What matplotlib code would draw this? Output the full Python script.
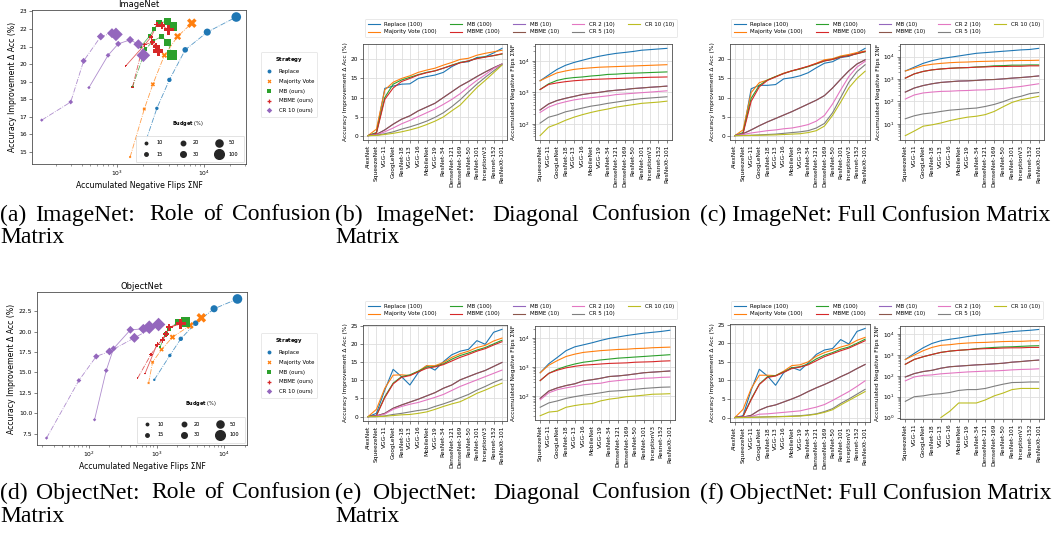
import numpy as np
import matplotlib.pyplot as plt
from matplotlib.lines import Line2D

W, H = 1058, 533

# ---------------- data ----------------
models = ['AlexNet', 'SqueezeNet', 'VGG-11', 'GoogLeNet', 'ResNet-18', 'VGG-13', 'VGG-16',
          'MobileNet', 'VGG-19', 'ResNet-34', 'DenseNet-121', 'DenseNet-169', 'ResNet-50',
          'ResNet-101', 'InceptionV3', 'Resnet-152', 'ResNeXt-101']
series = ['Replace (100)', 'Majority Vote (100)', 'MB (100)', 'MBME (100)', 'MB (10)',
          'MBME (10)', 'CR 2 (10)', 'CR 5 (10)', 'CR 10 (10)']

# (b) ImageNet, diagonal confusion: accuracy improvement (17 models)
acc_b = [
    [0, 0.7, 12.4, 13.0, 13.5, 13.6, 15.0, 15.5, 15.9, 16.6, 18.1, 19.2, 19.4, 20.5, 20.7, 21.7, 22.9],
    [0, 1.7, 12.0, 14.0, 15.0, 15.7, 16.6, 17.2, 17.7, 18.5, 19.2, 20.0, 20.3, 21.1, 21.6, 22.0, 22.4],
    [0, 0.8, 10.0, 13.5, 14.6, 15.3, 16.0, 16.6, 17.0, 17.7, 18.5, 19.2, 19.6, 20.3, 20.7, 21.0, 21.4],
    [0, 0.6, 9.5, 12.5, 14.2, 15.0, 15.9, 16.5, 17.0, 17.7, 18.4, 19.1, 19.6, 20.2, 20.6, 21.0, 21.5],
    [0, 0.3, 1.5, 3.0, 4.3, 5.2, 6.5, 7.5, 8.5, 10.0, 11.5, 13.0, 14.2, 15.5, 16.7, 17.8, 18.8],
    [0, 0.3, 1.5, 3.0, 4.3, 5.2, 6.5, 7.5, 8.5, 10.0, 11.5, 13.0, 14.2, 15.5, 16.7, 17.8, 18.8],
    [0, 0.2, 1.0, 2.0, 3.1, 4.0, 5.0, 6.0, 7.0, 8.2, 9.5, 11.0, 12.8, 14.5, 16.0, 17.6, 18.7],
    [0, 0.1, 0.5, 1.0, 1.7, 2.3, 3.0, 3.8, 4.8, 6.0, 7.6, 9.4, 11.5, 13.5, 15.3, 17.0, 18.6],
    [0, 0.05, 0.3, 0.6, 1.0, 1.5, 2.1, 2.9, 3.8, 4.9, 6.5, 8.0, 10.3, 12.6, 14.5, 16.5, 18.5],
]
# (b) accumulated negative flips (16 models, from SqueezeNet)
nf_b = [
    [2340, 3550, 5370, 7240, 8910, 10500, 12300, 14100, 15800, 17400, 18600, 20000, 21900, 22900, 24000, 25100],
    [2340, 3160, 4170, 4790, 5370, 5750, 6030, 6310, 6460, 6610, 6760, 6920, 7080, 7240, 7410, 7590],
    [1230, 1860, 2400, 2750, 2950, 3090, 3310, 3470, 3720, 3800, 3980, 4070, 4170, 4270, 4370, 4470],
    [1230, 1780, 2000, 2190, 2340, 2450, 2570, 2630, 2690, 2750, 2820, 2880, 2950, 3020, 3050, 3090],
    [275, 427, 550, 646, 741, 851, 933, 1000, 1100, 1170, 1230, 1320, 1380, 1450, 1510, 1580],
    [275, 427, 550, 646, 741, 851, 933, 1000, 1100, 1170, 1230, 1320, 1380, 1450, 1510, 1580],
    [229, 339, 427, 501, 575, 631, 676, 724, 776, 851, 891, 933, 977, 1020, 1070, 1120],
    [105, 162, 191, 240, 275, 316, 363, 398, 447, 490, 537, 589, 631, 661, 692, 724],
    [42, 78, 98, 129, 162, 195, 229, 263, 295, 339, 372, 407, 447, 468, 490, 525],
]

# (c) ImageNet, full confusion matrix
acc_c = [
    [0, 0.5, 12.3, 13.2, 13.2, 13.4, 14.9, 15.2, 15.7, 16.5, 17.8, 19.0, 19.4, 20.5, 20.8, 21.7, 22.9],
    [0, 1.5, 11.3, 13.9, 14.6, 15.5, 16.4, 17.0, 17.5, 18.2, 19.0, 19.9, 20.2, 20.9, 21.3, 21.8, 22.2],
    [0, 0.8, 9.8, 13.2, 14.6, 15.5, 16.3, 17.0, 17.5, 18.1, 18.8, 19.6, 20.0, 20.7, 21.0, 21.5, 22.0],
    [0, 0.5, 9.0, 12.8, 14.5, 15.4, 16.3, 17.0, 17.6, 18.2, 18.9, 19.6, 20.0, 20.6, 21.0, 21.5, 22.1],
    [0, 0.5, 1.5, 2.6, 3.6, 4.5, 5.4, 6.3, 7.3, 8.3, 9.3, 10.5, 12.5, 14.8, 17.0, 18.8, 19.9],
    [0, 0.5, 1.5, 2.6, 3.6, 4.5, 5.4, 6.3, 7.3, 8.3, 9.3, 10.5, 12.5, 14.8, 17.0, 18.8, 19.9],
    [0, 0.3, 0.7, 1.0, 1.3, 1.5, 1.8, 2.0, 2.4, 2.9, 3.8, 5.3, 8.3, 12.0, 15.5, 18.0, 19.5],
    [0, 0.05, 0.1, 0.2, 0.3, 0.4, 0.6, 0.8, 1.0, 1.3, 2.0, 3.2, 6.0, 10.0, 14.0, 16.8, 18.6],
    [0, 0.02, 0.05, 0.1, 0.15, 0.2, 0.3, 0.4, 0.5, 0.8, 1.3, 2.5, 5.3, 8.8, 12.5, 15.0, 16.9],
]
nf_c = [
    [2290, 3390, 5010, 6610, 8130, 9330, 10700, 12300, 14100, 15100, 16200, 17400, 18600, 20000, 20900, 23400],
    [2290, 3020, 3980, 4570, 5010, 5370, 5620, 5750, 6030, 6170, 6310, 6460, 6610, 6760, 6760, 6920],
    [1100, 1700, 2190, 2570, 2820, 3020, 3160, 3240, 3470, 3630, 3890, 3980, 4170, 4170, 4270, 4270],
    [1100, 1700, 2190, 2570, 2820, 3020, 3160, 3240, 3390, 3470, 3630, 3630, 3720, 3720, 3890, 3890],
    [263, 398, 513, 617, 708, 759, 813, 832, 871, 933, 955, 1020, 1100, 1170, 1260, 1380],
    [263, 398, 513, 617, 708, 759, 813, 832, 871, 933, 955, 1020, 1100, 1170, 1260, 1380],
    [129, 195, 240, 263, 282, 288, 302, 309, 324, 331, 355, 380, 427, 468, 537, 617],
    [17, 23, 28, 31, 36, 41, 44, 48, 51, 60, 74, 98, 138, 170, 224, 251],
    [3, 4.8, 7.9, 9.1, 11, 14, 17, 20, 22, 26, 36, 58, 91, 120, 141, 170],
]

# (e) ObjectNet, diagonal confusion
acc_e = [
    [0, 0.9, 7.3, 13.0, 11.0, 8.7, 12.1, 14.0, 12.8, 15.1, 17.0, 18.0, 18.5, 20.9, 19.9, 23.2, 24.0],
    [0, 2.0, 7.8, 11.4, 11.5, 11.3, 12.5, 14.0, 14.0, 14.9, 16.3, 17.3, 18.0, 19.0, 19.6, 20.8, 21.6],
    [0, 0.3, 5.5, 9.2, 11.0, 11.5, 12.5, 13.6, 13.8, 14.5, 15.8, 16.8, 17.5, 18.3, 19.0, 20.0, 21.0],
    [0, 0.3, 5.2, 9.0, 10.8, 11.3, 12.3, 13.3, 13.7, 14.3, 15.3, 16.3, 17.1, 18.0, 18.7, 19.7, 20.6],
    [0, 0.2, 0.9, 2.3, 3.2, 4.0, 4.8, 5.7, 6.6, 7.8, 8.7, 10.1, 11.0, 11.9, 12.7, 13.8, 14.9],
    [0, 0.2, 0.9, 2.3, 3.2, 4.0, 4.8, 5.7, 6.6, 7.8, 8.7, 10.1, 11.0, 11.9, 12.7, 13.8, 14.9],
    [0, 0.1, 0.7, 2.0, 2.8, 3.4, 3.9, 4.6, 5.3, 6.1, 7.2, 8.3, 9.2, 10.1, 11.0, 11.9, 12.8],
    [0, 0, 0.2, 0.6, 0.9, 1.3, 1.7, 2.0, 2.8, 3.5, 4.3, 5.2, 6.1, 7.3, 8.3, 9.4, 10.3],
    [0, 0, 0.1, 0.3, 0.5, 0.6, 0.9, 1.3, 2.0, 2.8, 3.5, 4.1, 5.2, 6.4, 7.3, 8.3, 9.2],
]
nf_e = [
    [631, 1290, 2140, 3630, 4900, 5750, 6760, 8130, 9550, 10700, 12000, 13200, 14500, 15500, 16600, 18200],
    [631, 1150, 1660, 2290, 2750, 3160, 3390, 3630, 3800, 3980, 4070, 4270, 4370, 4570, 4680, 4790],
    [339, 603, 832, 1050, 1260, 1450, 1580, 1740, 1860, 2000, 2090, 2190, 2290, 2400, 2510, 2630],
    [339, 603, 776, 933, 1050, 1150, 1200, 1260, 1320, 1350, 1380, 1450, 1480, 1510, 1580, 1620],
    [83, 148, 191, 229, 263, 331, 363, 407, 468, 490, 525, 575, 631, 661, 692, 724],
    [83, 148, 191, 229, 263, 331, 363, 407, 468, 490, 525, 575, 631, 661, 692, 724],
    [74, 129, 166, 191, 214, 245, 263, 275, 316, 339, 363, 380, 407, 417, 437, 447],
    [41, 58, 68, 83, 95, 107, 117, 129, 145, 151, 158, 170, 182, 191, 200, 204],
    [21, 28, 30, 41, 47, 52, 55, 68, 78, 85, 95, 100, 107, 115, 117, 120],
]

# (f) ObjectNet, full confusion matrix
acc_f = [
    [0, 0.5, 7.4, 13.0, 11.2, 8.7, 12.1, 13.5, 12.7, 14.7, 17.0, 18.2, 18.6, 21.0, 19.8, 23.2, 24.0],
    [0, 2.2, 7.8, 11.4, 11.4, 11.3, 12.5, 14.0, 14.2, 15.0, 16.5, 17.5, 18.2, 19.0, 19.6, 20.8, 21.6],
    [0, 0.3, 5.0, 9.0, 11.0, 11.3, 12.3, 13.4, 13.7, 14.4, 15.8, 16.8, 17.5, 18.4, 19.0, 20.0, 21.1],
    [0, 0.3, 4.8, 8.9, 10.8, 11.2, 12.2, 13.2, 13.6, 14.2, 15.3, 16.4, 17.2, 18.0, 18.7, 19.7, 20.7],
    [0, 0.1, 0.6, 2.0, 2.9, 3.4, 4.2, 5.0, 5.9, 7.0, 8.0, 8.9, 9.9, 11.0, 12.0, 13.2, 14.3],
    [0, 0.1, 0.6, 2.0, 2.9, 3.4, 4.2, 5.0, 5.9, 7.0, 8.0, 8.9, 9.9, 11.0, 12.0, 13.2, 14.3],
    [0, 0.05, 0.3, 0.9, 1.0, 1.2, 1.4, 1.6, 1.8, 2.3, 2.8, 3.5, 4.6, 5.8, 7.0, 8.4, 9.9],
    [0, 0.02, 0.1, 0.15, 0.2, 0.25, 0.3, 0.4, 0.5, 0.7, 1.0, 1.6, 2.4, 3.8, 5.0, 6.3, 7.6],
    [0, 0.01, 0.05, 0.1, 0.15, 0.2, 0.25, 0.3, 0.4, 0.6, 0.9, 1.4, 2.1, 3.4, 4.6, 5.8, 7.0],
]
nf_f = [
    [617, 1200, 2240, 3630, 4900, 5750, 6610, 7760, 8910, 10000, 10700, 12000, 13500, 14500, 15500, 17000],
    [617, 1000, 1620, 2340, 2950, 3160, 3550, 3800, 3980, 4070, 4270, 4470, 4570, 4570, 4790, 4900],
    [363, 617, 832, 1070, 1350, 1550, 1700, 1820, 2040, 2190, 2340, 2450, 2510, 2630, 2750, 2820],
    [363, 617, 832, 1070, 1350, 1550, 1700, 1820, 1950, 2040, 2090, 2190, 2240, 2240, 2340, 2340],
    [89, 129, 162, 186, 234, 275, 295, 316, 339, 355, 380, 407, 457, 490, 537, 575],
    [89, 129, 162, 186, 234, 275, 295, 316, 339, 355, 380, 407, 457, 490, 537, 575],
    [58, 89, 105, 112, 126, 135, 145, 155, 162, 170, 174, 182, 195, 204, 209, 219],
    [6, 10, 11, 13, 14, 16, 20, 22, 22, 25, 32, 40, 48, 49, 51, 51],
    [np.nan, np.nan, np.nan, np.nan, 1, 2, 5, 5, 5, 7, 11, 15, 22, 25, 25, 25],
]

# (a)/(d): budget sweep, one (NF, acc) line per confusion-matrix variant
budgets = [10, 15, 20, 30, 50, 100]
strategies = ['Replace', 'Majority Vote', 'MB (ours)', 'MBME (ours)', 'CR 10 (ours)']

imagenet_nf = {
    'Replace': [[1890, 2900, 4040, 6140, 11000, 23700]],
    'Majority Vote': [[1430, 2080, 2610, 3540, 5020, 7310]],
    'MB (ours)': [[1520, 2150, 2610, 3270, 3890, 4330], [1900, 2400, 2700, 3050, 3890, 4330]],
    'MBME (ours)': [[1520, 1900, 2100, 2570, 2850, 3000], [1276, 2100, 2500, 2900, 3300, 3980]],
    'CR 10 (ours)': [[138, 297, 418, 658, 885, 983], [481, 798, 1044, 1430, 1778, 2030]],
}
imagenet_acc = {
    'Replace': [[14.75, 17.48, 19.1, 20.81, 21.82, 22.68]],
    'Majority Vote': [[14.71, 17.44, 18.85, 20.5, 21.57, 22.33]],
    'MB (ours)': [[18.68, 20.85, 21.3, 21.57, 21.25, 20.5], [21.0, 21.6, 22.0, 22.37, 22.41, 22.14]],
    'MBME (ours)': [[18.68, 20.58, 21.1, 21.25, 21.0, 20.75], [19.9, 21.1, 21.55, 22.25, 22.2, 21.95]],
    'CR 10 (ours)': [[16.81, 17.84, 20.18, 21.57, 21.76, 21.69], [18.66, 20.5, 21.15, 21.38, 21.13, 20.5]],
}
objectnet_nf = {
    'Replace': [[925, 1570, 2280, 3780, 7080, 15700]],
    'Majority Vote': [[762, 873, 1186, 1718, 3125, 4590]],
    'MB (ours)': [[1120, 1370, 1535, 2040, 2410, 2690]],
    'MBME (ours)': [[525, 826, 1035, 1225, 1535, 2280], [673, 1000, 1225, 1370, 1535, 2280]],
    'CR 10 (ours)': [[23.6, 71, 128, 201, 470, 1070], [121, 180, 231, 410, 637, 780]],
}
objectnet_acc = {
    'Replace': [[14.1, 17.08, 19.12, 21.03, 22.8, 24.0]],
    'Majority Vote': [[13.7, 16.26, 17.81, 19.32, 20.75, 21.69]],
    'MB (ours)': [[18.1, 19.73, 20.34, 21.15, 21.15, 21.15]],
    'MBME (ours)': [[14.31, 17.2, 18.42, 19.0, 20.54, 20.95], [14.84, 18.3, 19.0, 19.73, 20.54, 20.95]],
    'CR 10 (ours)': [[6.97, 14.02, 16.96, 17.57, 19.24, 20.87], [9.21, 15.24, 17.93, 20.22, 20.34, 20.54]],
}

# ---------------- style ----------------
colors = plt.get_cmap('tab10').colors
strat_colors = dict(zip(strategies, colors[:5]))
strat_markers = {'Replace': 'o', 'Majority Vote': 'X', 'MB (ours)': 's',
                 'MBME (ours)': 'P', 'CR 10 (ours)': 'D'}
marker_area = {10: 3, 15: 6, 20: 10, 30: 16, 50: 26, 100: 48}
spine_col = '0.3'

fig = plt.figure(figsize=(W / 100, H / 100), dpi=100)


def box(l, t, r, b):
    return [l / W, 1 - b / H, (r - l) / W, (b - t) / H]


def style_axes(ax, size):
    for s in ax.spines.values():
        s.set_color(spine_col)
        s.set_linewidth(0.6)
    ax.tick_params(which='major', labelsize=size, length=2, width=0.5, pad=1.5, color=spine_col)
    ax.tick_params(which='minor', length=1.2, width=0.4, color=spine_col)


def role_panel(rect, title, nf, acc, strat_anchor, budget_title_xy):
    ax = fig.add_axes(box(*rect))
    ax.set_xscale('log')
    for st in strategies:
        for k, (xs, ys) in enumerate(zip(nf[st], acc[st])):
            ax.plot(xs, ys, ls='-.' if k == 0 else '-', lw=0.6, color=strat_colors[st],
                    alpha=0.75, zorder=1)
            ax.scatter(xs, ys, s=[marker_area[b] for b in budgets], marker=strat_markers[st],
                       color=strat_colors[st], linewidths=0, zorder=2)
    ax.set_title(title, fontsize=6, pad=2)
    ax.set_xlabel('Accumulated Negative Flips ΣNF', fontsize=5.6, labelpad=2)
    ax.set_ylabel('Accuracy Improvement Δ Acc (%)', fontsize=5.6, labelpad=2)
    style_axes(ax, 4.3)

    bh = [Line2D([], [], ls='', marker='o', color='0.15', markersize=np.sqrt(marker_area[b]))
          for b in budgets]
    leg = ax.legend(bh, [str(b) for b in budgets], ncol=3, loc='lower right', fontsize=3.6,
                    frameon=True, borderpad=1.0, labelspacing=1.2, columnspacing=3.0,
                    handletextpad=1.0, bbox_to_anchor=(1.0, 0.0))
    leg.get_frame().set_linewidth(0.5)
    leg.get_frame().set_edgecolor('0.85')
    ax.add_artist(leg)
    fig.text(budget_title_xy[0] / W, 1 - budget_title_xy[1] / H, r'$\bf{Budget}$ (%)',
             fontsize=3.6, ha='center', va='center')

    sh = [Line2D([], [], ls='', marker=strat_markers[st], color=strat_colors[st], markersize=2.8,
                 markeredgewidth=0) for st in strategies]
    sl = fig.legend(sh, strategies, loc='upper left',
                    bbox_to_anchor=(strat_anchor[0] / W, 1 - strat_anchor[1] / H),
                    fontsize=3.9, title=r'$\bf{Strategy}$', title_fontsize=3.9, frameon=True,
                    labelspacing=0.9, borderpad=0.6, handletextpad=0.7)
    sl.get_frame().set_linewidth(0.5)
    sl.get_frame().set_edgecolor('0.85')
    return ax


def model_panel(rect_l, rect_r, acc, nf, legend_anchor, ylim_r=None):
    axl = fig.add_axes(box(*rect_l))
    x = np.arange(len(models))
    handles = []
    for ys, c in zip(acc, colors):
        handles.append(axl.plot(x, ys, color=c, lw=0.8)[0])
    axl.set_xticks(x)
    axl.set_xticklabels(models, rotation=90)
    axl.set_xlim(-0.6, len(models) - 0.4)
    axl.set_ylabel('Accuracy Improvement Δ Acc (%)', fontsize=4.2, labelpad=2)
    axl.grid(True, color='0.87', lw=0.6)
    style_axes(axl, 4.2)

    axr = fig.add_axes(box(*rect_r))
    xr = np.arange(len(models) - 1)
    for ys, c in zip(nf, colors):
        axr.plot(xr, ys, color=c, lw=0.8)
    axr.set_yscale('log')
    if ylim_r is not None:
        axr.set_ylim(*ylim_r)
    axr.set_xticks(xr)
    axr.set_xticklabels(models[1:], rotation=90)
    axr.set_xlim(-0.6, len(models) - 1.4)
    axr.set_ylabel('Accumulated Negative Flips ΣNF', fontsize=4.2, labelpad=2)
    axr.grid(True, which='major', color='0.87', lw=0.6)
    style_axes(axr, 4.2)

    lg = fig.legend(handles, series, ncol=5, loc='lower left',
                    bbox_to_anchor=(legend_anchor[0] / W, 1 - legend_anchor[1] / H),
                    fontsize=4.0, frameon=True, borderpad=0.5, labelspacing=0.45,
                    handlelength=2.2, columnspacing=2.4)
    lg.get_frame().set_linewidth(0.5)
    lg.get_frame().set_edgecolor('0.85')
    return axl, axr


role_panel((32, 10, 246, 164), 'ImageNet', imagenet_nf, imagenet_acc, (258, 49), (188, 123))
role_panel((37, 292, 247, 445), 'ObjectNet', objectnet_nf, objectnet_acc, (258, 330), (201, 403))

model_panel((363, 44, 507, 140), (535, 44, 672, 140), acc_b, nf_b, (362, 40))
model_panel((730, 44, 870, 140), (900, 44, 1044, 140), acc_c, nf_c, (728, 40))
model_panel((363, 325, 507, 421), (535, 326, 675, 420), acc_e, nf_e, (362, 322))
model_panel((730, 324, 870, 422), (900, 326, 1044, 419), acc_f, nf_f, (728, 322),
            ylim_r=(0.85, 25000))

# ---------------- captions (LaTeX-style justified first lines) ----------------
cap = dict(fontfamily='Liberation Serif', fontsize=17, va='center')
renderer = fig.canvas.get_renderer()


def justified(line, x0, x1, y):
    words = line.split()
    texts = [fig.text(0, 1 - y / H, w, ha='left', **cap) for w in words]
    widths = [t.get_window_extent(renderer).width for t in texts]
    # space after a colon stretches a bit more, as in TeX
    weights = [1.5 if w.endswith(':') else 1.0 for w in words[:-1]]
    unit = (x1 - x0 - sum(widths)) / sum(weights)
    x = x0
    for i, (t, w) in enumerate(zip(texts, widths)):
        t.set_x(x / W)
        if i < len(weights):
            x += w + unit * weights[i]


justified('(a) ImageNet: Role of Confusion', 0, 330, 215)
fig.text(0 / W, 1 - 238 / H, 'Matrix', ha='left', **cap)
justified('(b) ImageNet: Diagonal Confusion', 335, 690, 215)
fig.text(335 / W, 1 - 238 / H, 'Matrix', ha='left', **cap)
fig.text(700 / W, 1 - 215 / H, '(c) ImageNet: Full Confusion Matrix', ha='left', **cap)
justified('(d) ObjectNet: Role of Confusion', 0, 330, 493)
fig.text(0 / W, 1 - 516 / H, 'Matrix', ha='left', **cap)
justified('(e) ObjectNet: Diagonal Confusion', 335, 690, 493)
fig.text(335 / W, 1 - 516 / H, 'Matrix', ha='left', **cap)
fig.text(700 / W, 1 - 493 / H, '(f) ObjectNet: Full Confusion Matrix', ha='left', **cap)

fig.savefig('out.png', dpi=100)
